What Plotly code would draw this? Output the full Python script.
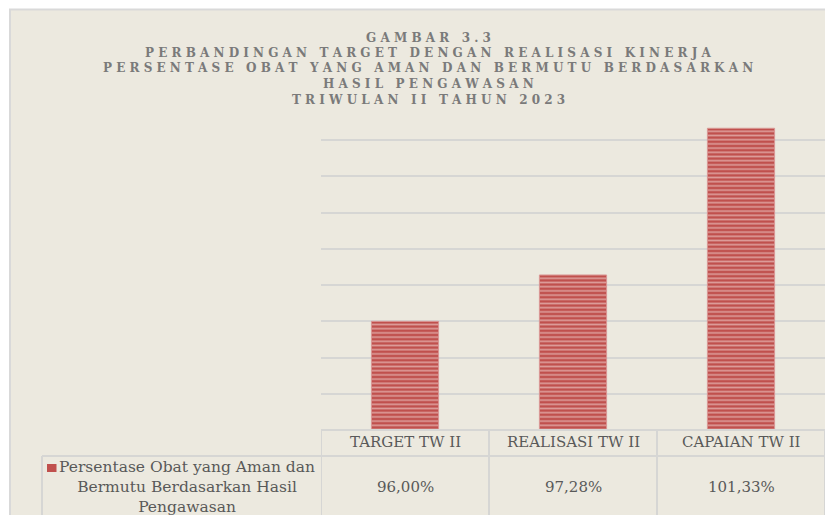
import plotly.graph_objects as go

# ---- data ----
categories = ["TARGET TW II", "REALISASI TW II", "CAPAIAN TW II"]
values = [96.00, 97.28, 101.33]
value_labels = ["96,00%", "97,28%", "101,33%"]
series_name = "Persentase Obat yang Aman dan<br>Bermutu Berdasarkan Hasil<br>Pengawasan"
title_lines = [
    "GAMBAR 3.3",
    "PERBANDINGAN TARGET DENGAN REALISASI KINERJA",
    "PERSENTASE OBAT YANG AMAN DAN BERMUTU BERDASARKAN",
    "HASIL PENGAWASAN",
    "TRIWULAN II TAHUN 2023",
]
y_min, y_max, y_step = 93, 102, 1

# ---- layout geometry (pixels, page coordinates; page has 8px body margin) ----
OFF = 8
W, H = 833 - OFF, 515 - OFF
L, R, T, B = 321 - OFF, 8, 104 - OFF, 85
PW, PH = W - L - R, H - T - B

def px(x):
    return (x - OFF - L) / PW

def py(y):
    return (H - B - (y - OFF)) / PH

NB = "\u00a0"

def spaced(s):
    return (NB * 3).join(NB.join(list(w)) for w in s.split(" "))

BG = "#ECE9DF"
GRID = "#D6D6D4"
TXT = "#595959"
RED = "#C0504D"

fig = go.Figure()
fig.add_trace(go.Bar(
    x=categories, y=values, width=0.4,
    marker=dict(color=RED, line=dict(color="#D99694", width=1),
                pattern=dict(shape="-", fgcolor="#F7E6E4", size=4.2, solidity=0.4)),
    showlegend=False,
))

shapes = []
# chart background panel with border
shapes.append(dict(type="rect", xref="paper", yref="paper", layer="below",
                   x0=px(10), x1=px(845), y0=py(530), y1=py(9.5),
                   fillcolor=BG, line=dict(color="#D9D9D9", width=2)))
# table lines
line_style = dict(color=GRID, width=2)
for xb in [-0.5, 0.5, 1.5, 2.5]:
    shapes.append(dict(type="line", xref="x", yref="paper", x0=xb, x1=xb,
                       y0=py(430), y1=py(520), line=line_style))
shapes.append(dict(type="line", xref="x", yref="paper", x0=-0.5, x1=2.5,
                   y0=py(430), y1=py(430), line=line_style))
shapes.append(dict(type="line", xref="paper", yref="paper", x0=px(42), x1=px(825),
                   y0=py(456), y1=py(456), line=line_style))
shapes.append(dict(type="line", xref="paper", yref="paper", x0=px(42), x1=px(42),
                   y0=py(456), y1=py(520), line=line_style))
# legend key
shapes.append(dict(type="rect", xref="paper", yref="paper", x0=px(47), x1=px(56.5),
                   y0=py(472), y1=py(464), fillcolor=RED, line=dict(width=0)))

annotations = []
title_y = [38, 53, 68, 84, 100]
for t, yy in zip(title_lines, title_y):
    annotations.append(dict(text="<b>" + spaced(t) + "</b>", xref="paper", yref="paper",
                            x=px(428), y=py(yy), xanchor="center", yanchor="middle",
                            showarrow=False,
                            font=dict(family="DejaVu Serif", size=12, color="#7A7A7A")))
for c, v in zip(categories, value_labels):
    annotations.append(dict(text=c, xref="x", yref="paper", x=c, y=py(442),
                            xanchor="center", yanchor="middle", showarrow=False,
                            font=dict(family="DejaVu Serif", size=15, color=TXT)))
    annotations.append(dict(text=v, xref="x", yref="paper", x=c, y=py(487),
                            xanchor="center", yanchor="middle", showarrow=False,
                            font=dict(family="DejaVu Serif", size=15, color=TXT)))
annotations.append(dict(text=series_name, xref="paper", yref="paper", x=px(187), y=py(487),
                        xanchor="center", yanchor="middle", align="center", showarrow=False,
                        font=dict(family="DejaVu Serif", size=15.5, color=TXT)))

fig.update_layout(
    width=W, height=H,
    margin=dict(l=L, r=R, t=T, b=B, pad=0),
    paper_bgcolor="white", plot_bgcolor="rgba(0,0,0,0)",
    shapes=shapes, annotations=annotations,
    xaxis=dict(range=[-0.5, 2.5], showticklabels=False, showgrid=False, zeroline=False,
               showline=False, ticks=""),
    yaxis=dict(range=[y_min, y_max], dtick=y_step, tick0=y_min, showticklabels=False,
               showgrid=True, gridcolor=GRID, gridwidth=2, zeroline=False, showline=False),
    bargap=0.6,
)

fig.write_html("out.html")
